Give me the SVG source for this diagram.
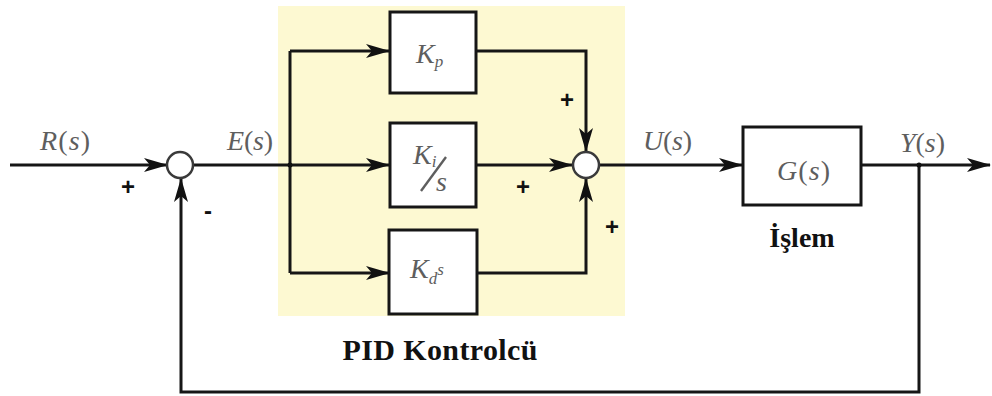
<svg xmlns="http://www.w3.org/2000/svg" width="992" height="396" viewBox="0 0 992 396">
<style>
.ln{fill:none;stroke:#161616;stroke-width:3;stroke-linejoin:miter}
.box{fill:#fff;stroke:#161616;stroke-width:3}
.sum{fill:#fff;stroke:#3a3a3a;stroke-width:2.5}
.m{font-family:"Liberation Serif","DejaVu Serif",serif;font-style:italic;fill:#5e5e5e;font-size:28px}
.u{font-style:normal}
.sg{font-family:"Liberation Sans",sans-serif;font-weight:bold;fill:#111;font-size:24px;text-anchor:middle}
.cap{font-family:"Liberation Serif","DejaVu Serif",serif;font-weight:bold;fill:#111;text-anchor:middle}
</style>
<defs>
<marker id="ar" viewBox="0 0 24 16" markerWidth="24" markerHeight="16" refX="23" refY="8" orient="auto" markerUnits="userSpaceOnUse">
<path d="M0,1 L24,8 L0,15 L6,8 Z" fill="#111"/>
</marker>
</defs>
<rect x="278" y="6" width="347" height="310" fill="#fdf9d2"/>
<g id="connectors">
<path class="ln" d="M10,165 H167" marker-end="url(#ar)"/>
<path class="ln" d="M919,165 V392 H181 V179" marker-end="url(#ar)"/>
<path class="ln" d="M193,165 H290"/>
<path class="ln" d="M290,51 V273"/>
<path class="ln" d="M290,51 H389" marker-end="url(#ar)"/>
<path class="ln" d="M290,165 H389" marker-end="url(#ar)"/>
<path class="ln" d="M290,273 H389" marker-end="url(#ar)"/>
<path class="ln" d="M477,51 H586 V151" marker-end="url(#ar)"/>
<path class="ln" d="M477,165 H572" marker-end="url(#ar)"/>
<path class="ln" d="M477,273 H586 V179" marker-end="url(#ar)"/>
<path class="ln" d="M599,165 H742" marker-end="url(#ar)"/>
<path class="ln" d="M861,165 H990" marker-end="url(#ar)"/>
<circle cx="290" cy="165" r="2.5" fill="#111"/>
<circle cx="919" cy="165" r="2.5" fill="#111"/>
</g>
<g id="sum1">
<circle class="sum" cx="180" cy="165" r="13"/>
<text class="sg" x="128" y="195">+</text>
<text class="sg" x="208" y="219">-</text>
</g>
<g id="sum2">
<circle class="sum" cx="586" cy="165" r="13"/>
<text class="sg" x="567" y="108">+</text>
<text class="sg" x="523" y="195">+</text>
<text class="sg" x="612" y="235">+</text>
</g>
<g id="kp">
<rect class="box" x="390" y="12" width="86" height="81"/>
<text class="m" x="416" y="63" font-size="26">K<tspan font-size="17" dy="4">p</tspan></text>
</g>
<g id="ki">
<rect class="box" x="390" y="123" width="86" height="84"/>
<text class="m" x="413" y="164" font-size="26">K<tspan font-size="17" dy="3">i</tspan></text>
<line x1="421" y1="191" x2="446" y2="157" stroke="#5e5e5e" stroke-width="2.4"/>
<text class="m" x="436" y="191" font-size="24">s</text>
</g>
<g id="kd">
<rect class="box" x="389" y="230" width="88" height="84"/>
<text class="m" x="410" y="278" font-size="26">K<tspan font-size="17" dy="6">d</tspan><tspan dy="-9" font-size="17">s</tspan></text>
</g>
<g id="plant">
<rect class="box" x="743" y="127" width="118" height="78"/>
<text class="m" x="777" y="180" textLength="53">G<tspan class="u">(</tspan>s<tspan class="u">)</tspan></text>
<text class="cap" x="802" y="247" font-size="28">İşlem</text>
</g>
<g id="labels">
<text class="m" x="40" y="150" textLength="50">R<tspan class="u">(</tspan>s<tspan class="u">)</tspan></text>
<text class="m" x="227" y="150" textLength="46">E<tspan class="u">(</tspan>s<tspan class="u">)</tspan></text>
<text class="m" x="643" y="150" textLength="49">U<tspan class="u">(</tspan>s<tspan class="u">)</tspan></text>
<text class="m" x="900" y="152" textLength="45">Y<tspan class="u">(</tspan>s<tspan class="u">)</tspan></text>
</g>
<g id="pid-caption">
<text class="cap" x="440" y="360" font-size="30" textLength="195">PID Kontrolcü</text>
</g>
</svg>
